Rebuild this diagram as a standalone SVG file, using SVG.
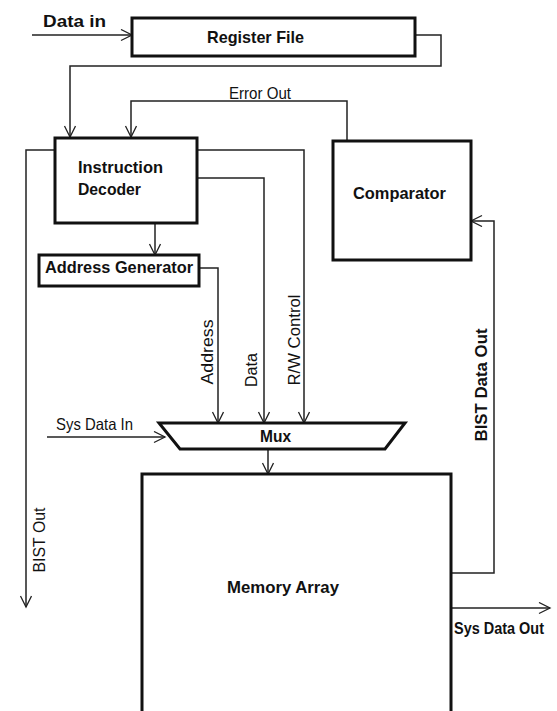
<svg xmlns="http://www.w3.org/2000/svg" width="557" height="711" viewBox="0 0 557 711">
<style>
.box{fill:#fff;stroke:#111;stroke-width:3}
.wire{fill:none;stroke:#222;stroke-width:1.5}
.arr{marker-end:url(#ah)}
.b{font-family:"Liberation Sans",Arial,sans-serif;font-weight:bold;font-size:17px;fill:#111}
.r{font-family:"Liberation Sans",Arial,sans-serif;font-size:16.5px;fill:#111}
</style>
<defs>
<marker id="ah" markerUnits="userSpaceOnUse" markerWidth="14" markerHeight="14" refX="12" refY="6" orient="auto">
<path d="M1,0.5 L12,6 L1,11.5" fill="none" stroke="#222" stroke-width="1.3"/>
</marker>
</defs>
<rect width="557" height="711" fill="#fff"/>
<g id="connectors">
<line class="wire arr" x1="32" y1="35" x2="132" y2="35"/>
<polyline class="wire arr" points="415,35 441,35 441,66 70,66 70,137"/>
<polyline class="wire arr" points="347,141 347,101 131,101 131,137"/>
<polyline class="wire arr" points="55,150 26,150 26,607"/>
<polyline class="wire arr" points="197,150 304,150 304,423"/>
<polyline class="wire arr" points="197,178 264,178 264,423"/>
<line class="wire arr" x1="155" y1="223" x2="155" y2="255"/>
<polyline class="wire arr" points="199,268 218,268 218,423"/>
<line class="wire arr" x1="47" y1="437" x2="165" y2="437"/>
<line class="wire arr" x1="268" y1="449" x2="268" y2="474"/>
<polyline class="wire arr" points="451,573 494,573 494,221 471,221"/>
<line class="wire arr" x1="451" y1="608" x2="550" y2="608"/>
<text class="b" x="43" y="27" font-size="19" textLength="63" lengthAdjust="spacingAndGlyphs">Data in</text>
<text class="r" x="229" y="99" textLength="62" lengthAdjust="spacingAndGlyphs">Error Out</text>
<text class="r" x="56" y="430" textLength="77" lengthAdjust="spacingAndGlyphs">Sys Data In</text>
<text class="b" x="454" y="634" font-size="16" textLength="90" lengthAdjust="spacingAndGlyphs">Sys Data Out</text>
<text class="r" text-anchor="middle" transform="translate(213,352) rotate(-90)" textLength="65" lengthAdjust="spacingAndGlyphs">Address</text>
<text class="r" text-anchor="middle" transform="translate(257,370) rotate(-90)" textLength="34" lengthAdjust="spacingAndGlyphs">Data</text>
<text class="r" text-anchor="middle" transform="translate(300,340) rotate(-90)" textLength="91" lengthAdjust="spacingAndGlyphs">R/W Control</text>
<text class="b" text-anchor="middle" transform="translate(487,385) rotate(-90)" textLength="113" lengthAdjust="spacingAndGlyphs">BIST Data Out</text>
<text class="r" text-anchor="middle" transform="translate(45,540) rotate(-90)" textLength="65" lengthAdjust="spacingAndGlyphs">BIST Out</text>
</g>
<g id="register-file">
<rect class="box" x="132" y="18" width="283" height="38"/>
<text class="b" x="207" y="43" textLength="97" lengthAdjust="spacingAndGlyphs">Register File</text>
</g>
<g id="instruction-decoder">
<rect class="box" x="55" y="138" width="142" height="85"/>
<text class="b" x="78" y="173" textLength="85" lengthAdjust="spacingAndGlyphs">Instruction</text>
<text class="b" x="78" y="195" textLength="63" lengthAdjust="spacingAndGlyphs">Decoder</text>
</g>
<g id="comparator">
<rect class="box" x="333" y="141" width="138" height="119"/>
<text class="b" x="353" y="199" textLength="93" lengthAdjust="spacingAndGlyphs">Comparator</text>
</g>
<g id="address-generator">
<rect class="box" x="39" y="255" width="160" height="31"/>
<text class="b" x="45" y="273" textLength="148" lengthAdjust="spacingAndGlyphs">Address Generator</text>
</g>
<g id="mux">
<polygon class="box" points="159,423 405,423 385,449 180,449"/>
<text class="b" x="260" y="442" textLength="31" lengthAdjust="spacingAndGlyphs">Mux</text>
</g>
<g id="memory-array">
<rect class="box" x="142" y="474" width="309" height="250"/>
<text class="b" x="227" y="593" textLength="112" lengthAdjust="spacingAndGlyphs">Memory Array</text>
</g>
</svg>
